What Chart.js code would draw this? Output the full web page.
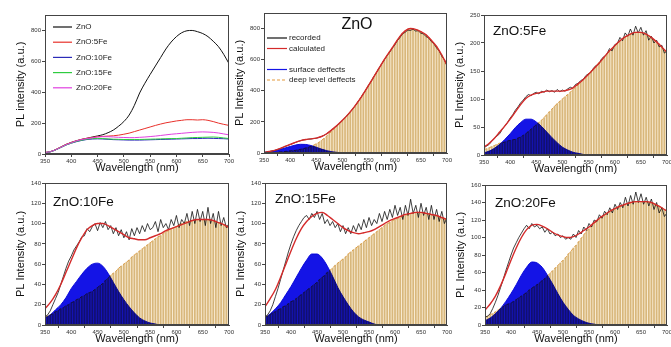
<!DOCTYPE html>
<html>
<head>
<meta charset="utf-8">
<script src="https://cdn.jsdelivr.net/npm/chart.js@4.4.1/dist/chart.umd.min.js"></script>
<style>
  body { margin: 0; background: #fff; width: 671px; height: 347px; overflow: hidden; position: relative; }
  canvas { position: absolute; }
</style>
</head>
<body>
<script>
// ---- wavelength grids ----
const wl5 = [
  350, 355, 360, 365, 370, 375, 380, 385, 390, 395,
  400, 405, 410, 415, 420, 425, 430, 435, 440, 445,
  450, 455, 460, 465, 470, 475, 480, 485, 490, 495,
  500, 505, 510, 515, 520, 525, 530, 535, 540, 545,
  550, 555, 560, 565, 570, 575, 580, 585, 590, 595,
  600, 605, 610, 615, 620, 625, 630, 635, 640, 645,
  650, 655, 660, 665, 670, 675, 680, 685, 690, 695,
  700
];
const wl10 = [
  350, 360, 370, 380, 390, 400, 410, 420, 430, 440,
  450, 460, 470, 480, 490, 500, 510, 520, 530, 540,
  550, 560, 570, 580, 590, 600, 610, 620, 630, 640,
  650, 660, 670, 680, 690, 700
];
const xTicks = [350, 400, 450, 500, 550, 600, 650, 700];

// ---- panel 1: all spectra (10 nm) ----
const surveyLabels = ["ZnO", "ZnO:5Fe", "ZnO:10Fe", "ZnO:15Fe", "ZnO:20Fe"];
const znoSurvey = [
  10, 15, 28, 45, 62, 75, 86, 95, 102, 110,
  117, 125, 138, 155, 180, 210, 252, 315, 395, 458,
  515, 570, 625, 680, 725, 760, 785, 798, 800, 792,
  780, 760, 730, 695, 645, 585
];
const fe5Survey = [
  10, 15, 28, 45, 62, 75, 86, 95, 102, 108,
  112, 114, 116, 118, 122, 128, 135, 145, 155, 165,
  175, 185, 194, 202, 208, 214, 218, 222, 222, 220,
  222, 218, 210, 200, 192, 185
];
const fe10Survey = [
  8, 14, 26, 42, 58, 70, 80, 88, 94, 97,
  98, 97, 95, 93, 92, 91, 90, 90, 90, 91,
  92, 93, 94, 95, 96, 97, 98, 99, 100, 100,
  101, 102, 101, 100, 99, 97
];
const fe15Survey = [
  8, 14, 26, 42, 58, 71, 82, 90, 96, 100,
  101, 100, 98, 96, 95, 94, 94, 94, 94, 95,
  96, 97, 98, 99, 100, 100, 102, 104, 106, 107,
  108, 109, 110, 108, 104, 100
];
const fe20Survey = [
  9, 15, 27, 43, 60, 73, 85, 94, 100, 105,
  110, 112, 112, 110, 108, 107, 106, 106, 108, 110,
  113, 116, 120, 124, 128, 131, 134, 137, 140, 142,
  143, 142, 140, 136, 130, 124
];

// ---- panel 2: ZnO ----
const znoRecorded = [
  3, 6, 9, 13, 16, 22, 27, 34, 41, 48,
  54, 61, 67, 74, 79, 84, 86, 89, 90, 93,
  95, 100, 106, 114, 124, 136, 150, 163, 178, 193,
  210, 226, 246, 264, 286, 306, 332, 354, 382, 406,
  436, 460, 492, 516, 546, 572, 598, 624, 646, 672,
  694, 722, 742, 766, 776, 790, 788, 796, 784, 786,
  770, 766, 748, 740, 716, 702, 676, 656, 622, 600,
  560
];
const znoCalc = [
  4, 10, 17, 28, 42, 55, 68, 80, 87, 91,
  96, 106, 124, 150, 178, 210, 245, 285, 330, 380,
  435, 490, 545, 600, 650, 700, 750, 785, 800, 795,
  780, 760, 725, 685, 630, 565
];
const znoSurface = [
  4, 8, 14, 22, 32, 42, 51, 56, 55, 48,
  37, 25, 15, 8, 4, 2, 1, 0, 0, 0,
  0, 0, 0, 0, 0, 0, 0, 0, 0, 0,
  0, 0, 0, 0, 0, 0
];
const znoDeep = [
  0, 1, 2, 2, 3, 4, 6, 7, 10, 11,
  13, 15, 17, 21, 24, 28, 32, 37, 43, 50,
  59, 68, 81, 94, 109, 125, 142, 156, 174, 190,
  208, 226, 244, 264, 285, 307, 330, 355, 380, 407,
  435, 462, 490, 517, 545, 572, 600, 625, 650, 675,
  700, 725, 750, 768, 785, 793, 800, 798, 795, 788,
  780, 770, 760, 743, 725, 705, 685, 658, 630, 598,
  565
];

// ---- panel 3: ZnO:5Fe ----
const fe5Recorded = [
  13, 16, 19, 25, 30, 34, 38, 46, 52, 58,
  66, 72, 80, 86, 93, 98, 104, 108, 106, 110,
  112, 109, 114, 112, 116, 113, 115, 112, 117, 113,
  116, 114, 118, 121, 119, 126, 128, 133, 135, 142,
  145, 148, 156, 160, 163, 172, 176, 180, 190, 186,
  197, 199, 210, 204, 218, 212, 225, 214, 230, 218,
  228, 214, 222, 205, 212, 200, 205, 193, 196, 182,
  186
];
const fe5Calc = [
  14, 21, 30, 41, 52, 64, 77, 90, 101, 107,
  110, 112, 114, 114, 114, 114, 116, 120, 127, 135,
  144, 154, 164, 175, 186, 195, 204, 211, 216, 219,
  219, 216, 210, 202, 193, 183
];
const fe5Surface = [
  4, 7, 12, 19, 28, 38, 49, 58, 64, 64,
  59, 51, 41, 31, 22, 14, 9, 5, 3, 1,
  0, 0, 0, 0, 0, 0, 0, 0, 0, 0,
  0, 0, 0, 0, 0, 0
];
const fe5Deep = [
  10, 11, 13, 15, 17, 19, 21, 22, 23, 25,
  26, 27, 28, 30, 32, 35, 38, 42, 46, 50,
  54, 58, 62, 67, 72, 77, 82, 87, 92, 96,
  100, 104, 108, 112, 117, 121, 125, 130, 135, 140,
  145, 150, 155, 160, 165, 170, 175, 180, 185, 190,
  195, 199, 203, 207, 211, 213, 216, 217, 219, 219,
  219, 218, 216, 213, 210, 206, 202, 198, 193, 188,
  183
];

// ---- panel 4: ZnO:10Fe ----
const fe10Recorded = [
  8, 10, 14, 20, 26, 32, 40, 48, 56, 63,
  68, 74, 78, 82, 87, 88, 95, 92, 97, 100,
  93, 101, 96, 102, 94, 98, 90, 96, 88, 94,
  86, 92, 84, 95, 88, 96, 90, 98, 92, 100,
  94, 96, 102, 92, 104, 96, 100, 94, 104, 98,
  108, 96, 104, 100, 110, 98, 112, 100, 114, 102,
  112, 98, 116, 100, 110, 96, 112, 98, 106, 96,
  100
];
const fe10Calc = [
  16, 22, 30, 40, 52, 64, 76, 86, 94, 98,
  100, 100, 98, 95, 92, 89, 86, 85, 84, 84,
  86, 88, 90, 93, 95, 97, 99, 101, 103, 104,
  104, 104, 103, 101, 99, 96
];
const fe10Surface = [
  7, 10, 15, 20, 27, 36, 43, 50, 56, 60,
  61, 58, 51, 42, 33, 25, 18, 12, 7, 4,
  2, 1, 0, 0, 0, 0, 0, 0, 0, 0,
  0, 0, 0, 0, 0, 0
];
const fe10Deep = [
  8, 9, 10, 11, 13, 14, 16, 17, 19, 20,
  22, 23, 25, 26, 28, 29, 31, 32, 33, 35,
  37, 39, 41, 44, 46, 49, 51, 53, 56, 58,
  60, 62, 64, 67, 69, 71, 73, 75, 77, 79,
  81, 83, 85, 87, 88, 90, 92, 93, 95, 96,
  97, 99, 100, 101, 102, 102, 103, 103, 104, 104,
  104, 104, 104, 103, 103, 102, 101, 100, 99, 98,
  96
];

// ---- panel 5: ZnO:15Fe ----
const fe15Recorded = [
  8, 10, 14, 20, 28, 36, 45, 54, 63, 72,
  80, 87, 93, 98, 102, 106, 108, 104, 110, 106,
  112, 104, 110, 100, 104, 98, 102, 96, 100, 92,
  98, 90, 96, 90, 98, 92, 100, 94, 104, 96,
  106, 98, 104, 100, 110, 102, 112, 104, 114, 106,
  118, 108, 116, 104, 118, 108, 124, 110, 118, 106,
  120, 108, 116, 104, 118, 104, 114, 102, 112, 100,
  106
];
const fe15Calc = [
  18, 26, 35, 47, 60, 73, 85, 95, 102, 107,
  110, 111, 108, 104, 100, 96, 93, 91, 90, 91,
  92, 94, 97, 100, 103, 105, 107, 109, 110, 111,
  111, 110, 109, 108, 106, 104
];
const fe15Surface = [
  7, 11, 16, 22, 30, 38, 47, 56, 64, 70,
  70, 66, 58, 48, 37, 28, 20, 13, 8, 5,
  3, 1, 0, 0, 0, 0, 0, 0, 0, 0,
  0, 0, 0, 0, 0, 0
];
const fe15Deep = [
  8, 9, 10, 12, 13, 15, 16, 18, 19, 21,
  23, 24, 26, 28, 30, 32, 34, 36, 38, 40,
  42, 45, 47, 49, 52, 54, 56, 59, 61, 63,
  65, 67, 70, 72, 74, 76, 78, 80, 82, 84,
  86, 88, 90, 92, 94, 96, 98, 100, 101, 103,
  104, 105, 106, 107, 108, 109, 110, 110, 111, 111,
  111, 111, 110, 110, 109, 108, 108, 107, 106, 105,
  104
];

// ---- panel 6: ZnO:20Fe ----
const fe20Recorded = [
  9, 10, 13, 19, 26, 34, 43, 52, 62, 71,
  80, 88, 94, 100, 105, 110, 114, 110, 116, 112,
  114, 110, 112, 106, 110, 104, 106, 102, 104, 100,
  102, 98, 100, 98, 104, 100, 108, 104, 112, 108,
  116, 112, 120, 118, 126, 122, 130, 126, 134, 128,
  138, 132, 140, 134, 146, 136, 148, 138, 152, 140,
  150, 138, 146, 136, 144, 132, 140, 128, 134, 124,
  128
];
const fe20Calc = [
  17, 24, 33, 45, 59, 74, 88, 100, 109, 114,
  115, 113, 110, 106, 103, 101, 100, 101, 104, 108,
  112, 117, 122, 126, 130, 133, 136, 138, 140, 141,
  141, 141, 140, 137, 134, 130
];
const fe20Surface = [
  5, 8, 13, 19, 27, 36, 46, 57, 66, 72,
  71, 66, 57, 47, 36, 26, 18, 11, 7, 4,
  2, 1, 0, 0, 0, 0, 0, 0, 0, 0,
  0, 0, 0, 0, 0, 0
];
const fe20Deep = [
  9, 10, 12, 13, 15, 17, 19, 21, 23, 24,
  25, 27, 29, 31, 33, 35, 37, 40, 42, 44,
  46, 48, 51, 53, 56, 59, 62, 65, 68, 71,
  74, 77, 81, 84, 88, 91, 95, 99, 103, 107,
  110, 113, 116, 119, 121, 124, 126, 128, 130, 132,
  133, 135, 136, 137, 138, 139, 140, 141, 141, 141,
  141, 141, 141, 140, 140, 139, 137, 136, 134, 132,
  130
];

// ---- layout ----
const FONT = '"Liberation Sans", Arial, sans-serif';
Chart.defaults.font.family = FONT;
const AXIS_W = 30, AXIS_H = 20, PAD_T = 5, PAD_R = 7;

function pts(xs, ys) {
  return xs.map((x, i) => ({ x: x, y: ys[i] }));
}

function addCanvas(box) {
  const c = document.createElement("canvas");
  const w = box.r - box.l + AXIS_W + PAD_R;
  const h = box.b - box.t + PAD_T + AXIS_H;
  c.width = w;
  c.height = h;
  c.style.left = (box.l - AXIS_W) + "px";
  c.style.top = (box.t - PAD_T) + "px";
  c.style.width = w + "px";
  c.style.height = h + "px";
  document.body.appendChild(c);
  return c;
}

// box around the plot
const frame = {
  id: "frame",
  afterDatasetsDraw(chart) {
    const { ctx, chartArea: a } = chart;
    ctx.save();
    ctx.strokeStyle = "#444";
    ctx.lineWidth = 1;
    ctx.strokeRect(Math.round(a.left) + 0.5, Math.round(a.top) + 0.5,
      Math.round(a.right - a.left) - 1, Math.round(a.bottom - a.top) - 1);
    ctx.restore();
  }
};

// blue peak is multiplied over the striped area below it
const blend = {
  id: "blend",
  afterDatasetDraw(chart, args) {
    const ds = chart.data.datasets[args.index];
    if (ds.blendNext) chart.ctx.globalCompositeOperation = "multiply";
    if (ds.blendEnd) chart.ctx.globalCompositeOperation = "source-over";
  }
};

// legend drawn inside the plot
const key = {
  id: "key",
  afterDraw(chart, args, opts) {
    if (!opts.gap) return;
    const { ctx, chartArea: a } = chart;
    ctx.save();
    ctx.font = opts.size + "px " + FONT;
    ctx.textBaseline = "middle";
    chart.data.datasets.forEach((ds) => {
      if (ds.keyRow == null) return;
      const y = a.top + opts.y + ds.keyRow * opts.gap;
      ctx.strokeStyle = ds.borderColor;
      ctx.lineWidth = 1.2;
      ctx.setLineDash(ds.borderDash || []);
      ctx.beginPath();
      ctx.moveTo(a.left + opts.x, y);
      ctx.lineTo(a.left + opts.x + opts.len, y);
      ctx.stroke();
      ctx.setLineDash([]);
      ctx.fillStyle = "#222";
      ctx.fillText(ds.label, a.left + opts.textX, y);
    });
    ctx.restore();
  }
};

const panelTitle = {
  id: "panelTitle",
  afterDraw(chart, args, opts) {
    if (!opts.text) return;
    const { ctx, chartArea: a } = chart;
    ctx.save();
    ctx.font = opts.size + "px " + FONT;
    ctx.fillStyle = "#111";
    ctx.textAlign = opts.align || "left";
    ctx.textBaseline = "middle";
    ctx.fillText(opts.text, a.left + opts.x, a.top + opts.y);
    ctx.restore();
  }
};

function makeScales(yMax, yStep, yTitle) {
  const tickFont = { size: 6, family: FONT };
  return {
    x: {
      type: "linear", min: 350, max: 700, offset: false,
      afterFit: (s) => { s.height = AXIS_H; },
      afterBuildTicks: (s) => { s.ticks = xTicks.map((v) => ({ value: v })); },
      ticks: { font: tickFont, color: "#333", padding: 1, maxRotation: 0, autoSkip: false },
      grid: { drawOnChartArea: false, tickLength: 3, color: "#444" },
      border: { color: "#444" },
      title: { display: true, text: "Wavelength (nm)", color: "#111",
        font: { size: 11, family: FONT, lineHeight: 1 }, padding: { top: 0, bottom: 1 } }
    },
    y: {
      min: 0, max: yMax,
      afterFit: (s) => { s.width = AXIS_W; },
      ticks: { stepSize: yStep, includeBounds: false, font: tickFont, color: "#333", padding: 1 },
      grid: { drawOnChartArea: false, tickLength: 3, color: "#444" },
      border: { color: "#444" },
      title: { display: true, text: yTitle, color: "#111",
        font: { size: 11, family: FONT, lineHeight: 1 }, padding: { top: 0, bottom: 0 } }
    }
  };
}

function makeChart(box, datasets, yMax, yStep, yTitle, plugOpts) {
  return new Chart(addCanvas(box), {
    type: "line",
    data: { datasets: datasets },
    options: {
      responsive: false,
      animation: false,
      events: [],
      devicePixelRatio: 1,
      layout: { autoPadding: false, padding: { left: 0, top: PAD_T, right: PAD_R, bottom: 0 } },
      scales: makeScales(yMax, yStep, yTitle),
      plugins: Object.assign({ legend: { display: false }, tooltip: { enabled: false } }, plugOpts)
    },
    plugins: [blend, frame, key, panelTitle]
  });
}

function fitSets(rec, calc, surf, deep, withKey) {
  return [
    { label: "deep level deffects", data: pts(wl5, deep), borderColor: "#e39a3c", borderWidth: 1,
      borderDash: [3, 2], backgroundColor: "#f8ead0", fill: "origin", pointRadius: 0, tension: 0,
      order: 6, keyRow: withKey ? 4 : null },
    { type: "bar", label: "", data: pts(wl5, deep), backgroundColor: "rgba(205,165,95,0.75)",
      borderWidth: 0, barThickness: 1, order: 5, blendNext: true },
    { label: "surface deffects", data: pts(wl10, surf), borderColor: "#1414e6", backgroundColor: "#1414e6",
      fill: "origin", borderWidth: 1, pointRadius: 0, cubicInterpolationMode: "monotone",
      order: 4, blendEnd: true, keyRow: withKey ? 3 : null },
    { label: "recorded", data: pts(wl5, rec), borderColor: "#111", borderWidth: 0.8, pointRadius: 0,
      tension: 0, order: 2, keyRow: withKey ? 0 : null },
    { label: "calculated", data: pts(wl10, calc), borderColor: "#d42a2a", borderWidth: 1.4, pointRadius: 0,
      cubicInterpolationMode: "monotone", order: 1, keyRow: withKey ? 1 : null }
  ];
}

// panel 1
const surveyColors = ["#111", "#e8302a", "#2b2bb8", "#2ecc40", "#e040e0"];
const surveyData = [znoSurvey, fe5Survey, fe10Survey, fe15Survey, fe20Survey];
makeChart({ l: 45, t: 15, r: 229, b: 154 },
  surveyData.map((ys, i) => ({
    label: surveyLabels[i], data: pts(wl10, ys), borderColor: surveyColors[i], borderWidth: 1,
    pointRadius: 0, cubicInterpolationMode: "monotone", order: 5 - i, keyRow: i
  })),
  900, 200, "PL intensity (a.u.)",
  { key: { x: 8, len: 19, textX: 31, y: 12, gap: 15.2, size: 8 } });

// panel 2
makeChart({ l: 264, t: 13, r: 447, b: 153 },
  fitSets(znoRecorded, znoCalc, znoSurface, znoDeep, true),
  900, 200, "PL Intensity (a.u.)",
  { key: { x: 3, len: 20, textX: 25, y: 25, gap: 10.5, size: 8 },
    panelTitle: { text: "ZnO", x: 93, y: 12, size: 16, align: "center" } });

// panel 3
makeChart({ l: 484, t: 15, r: 667, b: 155 },
  fitSets(fe5Recorded, fe5Calc, fe5Surface, fe5Deep, false),
  250, 50, "PL Intensity (a.u.)",
  { panelTitle: { text: "ZnO:5Fe", x: 9, y: 16.5, size: 13.5 } });

// panel 4
makeChart({ l: 45, t: 183, r: 229, b: 325 },
  fitSets(fe10Recorded, fe10Calc, fe10Surface, fe10Deep, false),
  140, 20, "PL Intensity (a.u.)",
  { panelTitle: { text: "ZnO:10Fe", x: 8, y: 19, size: 13.5 } });

// panel 5
makeChart({ l: 265, t: 183, r: 447, b: 325 },
  fitSets(fe15Recorded, fe15Calc, fe15Surface, fe15Deep, false),
  140, 20, "PL Intensity (a.u.)",
  { panelTitle: { text: "ZnO:15Fe", x: 10, y: 16, size: 13.5 } });

// panel 6
makeChart({ l: 485, t: 185, r: 667, b: 325 },
  fitSets(fe20Recorded, fe20Calc, fe20Surface, fe20Deep, false),
  160, 20, "PL Intensity (a.u.)",
  { panelTitle: { text: "ZnO:20Fe", x: 10, y: 18, size: 13.5 } });
</script>
</body>
</html>
